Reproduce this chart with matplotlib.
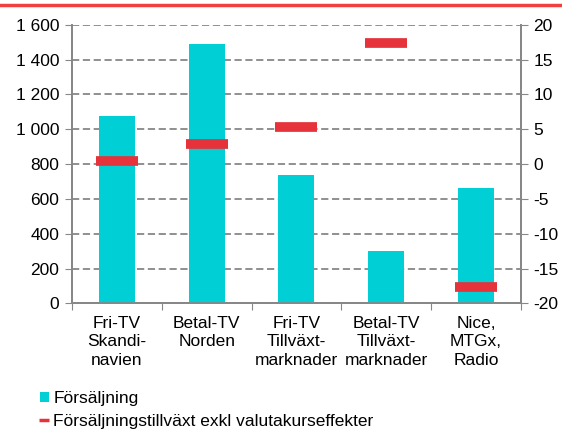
import matplotlib.pyplot as plt
import numpy as np
from matplotlib.lines import Line2D
from matplotlib.patches import Patch

# data
categories = ['Fri-TV\nSkandi-\nnavien', 'Betal-TV\nNorden', 'Fri-TV\nTillväxt-\nmarknader',
              'Betal-TV\nTillväxt-\nmarknader', 'Nice,\nMTGx,\nRadio']
sales = [1078, 1490, 738, 300, 665]
growth = [0.4, 2.9, 5.4, 17.4, -17.6]
left_ticks = [0, 200, 400, 600, 800, 1000, 1200, 1400, 1600]
right_ticks = [-20, -15, -10, -5, 0, 5, 10, 15, 20]
legend_labels = ['Försäljning', 'Försäljningstillväxt exkl valutakurseffekter']

cyan = '#00CFD6'
red = '#E5323B'
grey = '#878787'

plt.rcParams['font.family'] = ['Liberation Sans', 'DejaVu Sans']
plt.rcParams['font.size'] = 12.5
plt.rcParams['axes.unicode_minus'] = False

fig = plt.figure(figsize=(5.62, 4.29), dpi=100)
ax = fig.add_axes([0.128, 0.293, 0.799, 0.649])
ax2 = ax.twinx()

x = np.arange(len(categories))
ax.bar(x, sales, width=0.4, color=cyan, zorder=3)
ax2.plot(x, growth, ls='none', marker='_', ms=30, mew=7, color=red, zorder=4)
ax.set_zorder(1)
ax2.set_zorder(2)

ax.set_xlim(-0.5, len(categories) - 0.5)
ax.set_ylim(0, 1600)
ax2.set_ylim(-20, 20)
ax.set_yticks(left_ticks)
ax.set_yticklabels([f'{v:,}'.replace(',', ' ') for v in left_ticks])
ax2.set_yticks(right_ticks)

# category labels between tick marks
ax.set_xticks(np.arange(len(categories) + 1) - 0.5)
ax.set_xticklabels([])
ax.set_xticks(x, minor=True)
ax.set_xticklabels(categories, minor=True, linespacing=1.3)
ax.tick_params(axis='x', which='minor', length=0, pad=9)
ax.tick_params(axis='x', which='major', length=5, color=grey)
ax.tick_params(axis='y', length=5, color=grey, pad=4)
ax2.tick_params(axis='y', length=5, color=grey, pad=4)

ax.yaxis.grid(True, ls=(0, (4, 2)), color=grey, lw=1.3)
ax.set_axisbelow(True)

for a in (ax, ax2):
    a.spines['top'].set_visible(False)
    for s in ('left', 'right', 'bottom'):
        a.spines[s].set_color(grey)
        a.spines[s].set_linewidth(1.3)

# top red rule
fig.add_artist(Line2D([0, 1], [0.988, 0.988], color='#F2403F', lw=2.5, transform=fig.transFigure))

handles = [Patch(facecolor=cyan),
           Line2D([], [], color=red, ls='none', marker='_', ms=7, mew=2.5)]
fig.legend(handles, legend_labels, loc='lower left', bbox_to_anchor=(0.058, -0.016),
           frameon=False, handlelength=0.55, handleheight=0.55, handletextpad=0.25,
           labelspacing=0.45, borderaxespad=0)

fig.savefig('out.png', dpi=100)
